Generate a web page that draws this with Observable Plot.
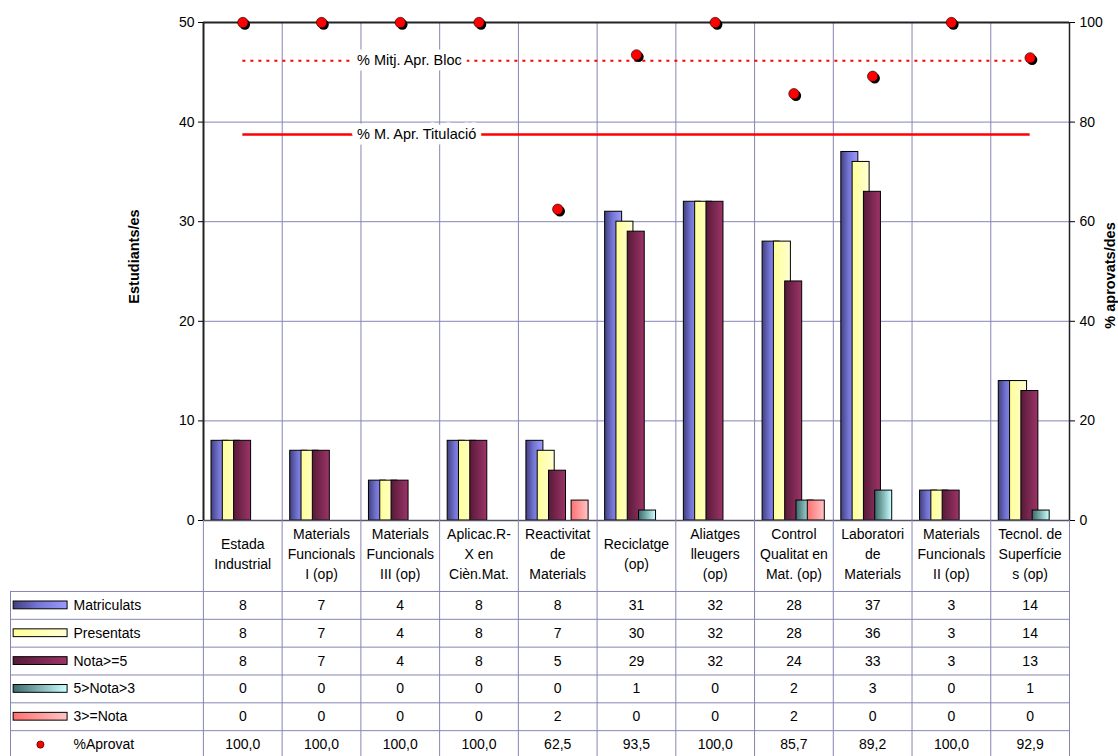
<!DOCTYPE html>
<html>
<head>
<meta charset="utf-8">
<script src="https://cdn.jsdelivr.net/npm/d3@7"></script>
<script src="https://cdn.jsdelivr.net/npm/@observablehq/plot@0.6"></script>
<style>
  html, body { margin: 0; padding: 0; background: #fff; overflow: hidden; }
  #wrap { position: relative; width: 1118px; height: 756px; font-family: "Liberation Sans", Arial, sans-serif; }
  #chart { position: absolute; left: 0; top: 0; }
  #table { position: absolute; left: 0; top: 520px; }
  #defs { position: absolute; left: 0; top: 0; width: 0; height: 0; }
</style>
</head>
<body>
<svg id="defs" width="0" height="0">
  <defs>
    <linearGradient id="gBlue" x1="0" x2="1" y1="0" y2="0">
      <stop offset="0" stop-color="#40407e"/><stop offset="0.45" stop-color="#7474d4"/><stop offset="1" stop-color="#9c9cff"/>
    </linearGradient>
    <linearGradient id="gYellow" x1="0" x2="1" y1="0" y2="0">
      <stop offset="0" stop-color="#ffff99"/><stop offset="1" stop-color="#ffffd2"/>
    </linearGradient>
    <linearGradient id="gMaroon" x1="0" x2="1" y1="0" y2="0">
      <stop offset="0" stop-color="#581a38"/><stop offset="1" stop-color="#9c3468"/>
    </linearGradient>
    <linearGradient id="gTeal" x1="0" x2="1" y1="0" y2="0">
      <stop offset="0" stop-color="#3a6a6a"/><stop offset="1" stop-color="#ccffff"/>
    </linearGradient>
    <linearGradient id="gPink" x1="0" x2="1" y1="0" y2="0">
      <stop offset="0" stop-color="#ff7070"/><stop offset="1" stop-color="#ffc4c4"/>
    </linearGradient>
  </defs>
</svg>
<div id="wrap">
  <div id="chart"></div>
  <div id="table"></div>
</div>
<script>
// ---------- DATA ----------
const categories = [
  "Estada\nIndustrial",
  "Materials\nFuncionals\nI (op)",
  "Materials\nFuncionals\nIII (op)",
  "Aplicac.R-\nX en\nCièn.Mat.",
  "Reactivitat\nde\nMaterials",
  "Reciclatge\n(op)",
  "Aliatges\nlleugers\n(op)",
  "Control\nQualitat en\nMat. (op)",
  "Laboratori\nde\nMaterials",
  "Materials\nFuncionals\nII (op)",
  "Tecnol. de\nSuperfície\ns (op)"
];
const seriesNames = ["Matriculats", "Presentats", "Nota>=5", "5>Nota>3", "3>=Nota"];
const matriculats = [8, 7, 4, 8, 8, 31, 32, 28, 37, 3, 14];
const presentats  = [8, 7, 4, 8, 7, 30, 32, 28, 36, 3, 14];
const nota5       = [8, 7, 4, 8, 5, 29, 32, 24, 33, 3, 13];
const nota53      = [0, 0, 0, 0, 0, 1, 0, 2, 3, 0, 1];
const nota3       = [0, 0, 0, 0, 2, 0, 0, 2, 0, 0, 0];
const aprovat     = [100.0, 100.0, 100.0, 100.0, 62.5, 93.5, 100.0, 85.7, 89.2, 100.0, 92.9];
const aprovatName = "%Aprovat";
const mitjBloc = 92.3;        // % Mitj. Apr. Bloc
const mitjTitulacio = 77.5;   // % M. Apr. Titulació
const leftTicks = [0, 10, 20, 30, 40, 50];
const rightTicks = [0, 20, 40, 60, 80, 100];

// ---------- STYLE ----------
const FONT = '"Liberation Sans", Arial, sans-serif';
const GRID = "#8585b5";
const grads = ["gBlue", "gYellow", "gMaroon", "gTeal", "gPink"];
const seriesValues = [matriculats, presentats, nota5, nota53, nota3];
const n = categories.length;

// bar geometry within a category slot (pixels)
const BAR_OFF = 8, BAR_STEP = 11.3, BAR_W = 17;
const SLOT = (1069 - 203) / n;

const barMarks = seriesValues.map((vals, s) => {
  const data = vals.map((v, i) => ({i, v})).filter(d => d.v > 0);
  return Plot.rectY(data, {
    x1: d => d.i, x2: d => d.i + 1, y1: 0, y2: d => d.v,
    insetLeft: BAR_OFF + BAR_STEP * s,
    insetRight: SLOT - (BAR_OFF + BAR_STEP * s + BAR_W),
    fill: `url(#${grads[s]})`, stroke: "#000", strokeWidth: 1
  });
});

const dots = aprovat.map((v, i) => ({i, v}));

const chart = Plot.plot({
  width: 1118, height: 522,
  marginLeft: 203, marginRight: 49, marginTop: 22, marginBottom: 2,
  x: {type: "linear", domain: [0, n], axis: null},
  y: {domain: [0, 50], axis: null},
  style: {background: "transparent", fontFamily: FONT, fontSize: "14px", color: "#000", overflow: "visible"},
  marks: [
    Plot.ruleY([10, 20, 30, 40], {stroke: GRID, strokeWidth: 1}),
    Plot.ruleX(d3.range(1, n), {stroke: GRID, strokeWidth: 1}),
    ...barMarks,
    Plot.ruleY([mitjBloc / 2], {x1: 0.5, x2: n - 0.5, stroke: "#ff0000", strokeWidth: 2, strokeDasharray: "3,5"}),
    Plot.ruleY([mitjTitulacio / 2], {x1: 0.5, x2: n - 0.5, stroke: "#ff0000", strokeWidth: 2.5}),
    Plot.text(["% Mitj. Apr. Bloc"], {x: 2, y: mitjBloc / 2, dx: -4, text: d => d, textAnchor: "start",
      fill: "#000", stroke: "#fff", strokeWidth: 11, fontSize: 14.5}),
    Plot.text(["% M. Apr. Titulació"], {x: 2, y: mitjTitulacio / 2, dx: -4, text: d => d, textAnchor: "start",
      fill: "#000", stroke: "#fff", strokeWidth: 11, fontSize: 14.5}),
    Plot.ruleY([0], {stroke: "#555566", strokeWidth: 1.5}),
    Plot.ruleY([50], {stroke: "#222", strokeWidth: 2}),
    Plot.ruleX([0], {stroke: "#222", strokeWidth: 2}),
    Plot.ruleX([n], {stroke: "#222", strokeWidth: 1.5}),
    Plot.dot(dots, {x: d => d.i + 0.5, y: d => d.v / 2, dx: 2, dy: 2, r: 5.2, fill: "#000"}),
    Plot.dot(dots, {x: d => d.i + 0.5, y: d => d.v / 2, r: 5.2, fill: "#ff0000", stroke: "#000", strokeWidth: 0.6}),
    Plot.axisY({anchor: "left", ticks: leftTicks, tickSize: 5, tickPadding: 4, label: null, fontSize: 14}),
    Plot.axisY({anchor: "right", ticks: rightTicks.map(t => t / 2), tickFormat: d => String(d * 2),
      tickSize: 5, tickPadding: 5, label: null, fontSize: 14}),
    Plot.text(["Estudiants/es"], {frameAnchor: "left", textAnchor: "middle", dx: -69, dy: -15, rotate: -90, text: d => d,
      fontWeight: "bold", fontSize: 14.5}),
    Plot.text(["% aprovats/des"], {frameAnchor: "right", textAnchor: "middle", dx: 41, dy: 4, rotate: -90, text: d => d,
      fontWeight: "bold", fontSize: 14.5})
  ]
});
document.getElementById("chart").appendChild(chart);

// ---------- TABLE ----------
const LEG = -2.45;          // legend column extent, in category units
const HEAD = -2.55;         // header row extent, in row units
const fmt1 = v => v.toFixed(1).replace(".", ",");
const rowDefs = [
  ...seriesNames.map((name, s) => ({name, vals: seriesValues[s].map(String), grad: grads[s]})),
  {name: aprovatName, vals: aprovat.map(fmt1), grad: null}
];
const cells = rowDefs.flatMap((r, ri) => r.vals.map((v, ci) => ({ri, ci, v})));

const swatches = rowDefs.map((r, ri) => ({...r, ri})).filter(r => r.grad).map(r =>
  Plot.rect([r], {x1: LEG + 0.04, x2: LEG + 0.725, y1: r.ri + 0.36, y2: r.ri + 0.64,
    fill: `url(#${r.grad})`, stroke: "#000", strokeWidth: 1})
);

const table = Plot.plot({
  width: 1118, height: 240,
  marginLeft: 10, marginRight: 49, marginTop: 0, marginBottom: 2,
  x: {type: "linear", domain: [LEG, n], axis: null},
  y: {type: "linear", domain: [6, HEAD], axis: null},
  style: {background: "transparent", fontFamily: FONT, fontSize: "14px", color: "#000", overflow: "visible"},
  marks: [
    Plot.ruleY(d3.range(0, 7), {x1: LEG, x2: n, stroke: GRID, strokeWidth: 1}),
    Plot.ruleX(d3.range(0, n + 1), {y1: HEAD, y2: 6, stroke: GRID, strokeWidth: 1}),
    Plot.ruleX([LEG], {y1: 0, y2: 6, stroke: GRID, strokeWidth: 1}),
    Plot.text(categories, {x: (d, i) => i + 0.5, y: HEAD / 2 - 0.12, text: d => d, lineHeight: 1.45, fontSize: 14, fill: "#000"}),
    Plot.text(cells, {x: d => d.ci + 0.5, y: d => d.ri + 0.5, text: "v", fontSize: 14, fill: "#000"}),
    ...swatches,
    Plot.dot([aprovatName], {x: LEG + 0.38, y: 5.5, r: 3.6, fill: "#ff0000", stroke: "#000", strokeWidth: 0.6}),
    Plot.text(rowDefs, {x: LEG + 0.8, y: (d, i) => i + 0.5, text: "name", textAnchor: "start", fontSize: 14, fill: "#000"})
  ]
});
document.getElementById("table").appendChild(table);
</script>
</body>
</html>
